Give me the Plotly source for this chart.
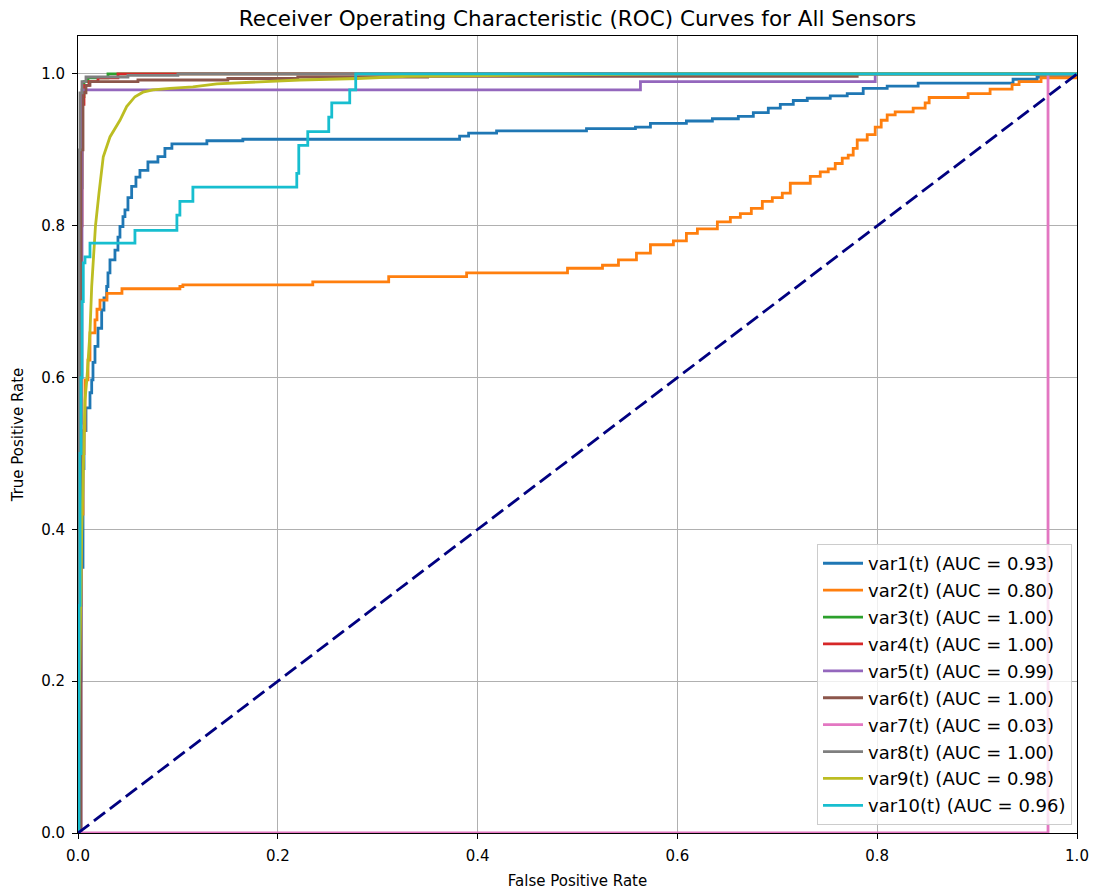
import plotly.graph_objects as go

# ---- data (step points: fpr where a step occurs, tpr level after the step) ----
names = ["var1(t)", "var2(t)", "var3(t)", "var4(t)", "var5(t)",
         "var6(t)", "var7(t)", "var8(t)", "var9(t)", "var10(t)"]
aucs = [0.93, 0.80, 1.00, 1.00, 0.99, 1.00, 0.03, 1.00, 0.98, 0.96]
colors = ["#1f77b4", "#ff7f0e", "#2ca02c", "#d62728", "#9467bd",
          "#8c564b", "#e377c2", "#7f7f7f", "#bcbd22", "#17becf"]
shapes = ["hv", "hv", "hv", "hv", "hv", "hv", "hv", "hv", "linear", "hv"]

fpr_var1 = [0.0, 0.001, 0.003, 0.005, 0.006, 0.008, 0.012, 0.0137, 0.015, 0.017, 0.020, 0.0237, 0.026, 0.0287,
            0.030, 0.032, 0.037, 0.040, 0.042, 0.045, 0.047, 0.050, 0.0537, 0.058, 0.062, 0.070,
            0.080, 0.087, 0.094, 0.129, 0.165, 0.382, 0.391, 0.419, 0.509, 0.558, 0.573, 0.609,
            0.635, 0.661, 0.676, 0.691, 0.703, 0.716, 0.730, 0.753, 0.770, 0.786, 0.810, 0.841,
            0.936, 0.960, 1.0]
tpr_var1 = [0.0, 0.20, 0.35, 0.48, 0.53, 0.56, 0.58, 0.597, 0.62, 0.641, 0.665, 0.689, 0.705, 0.720,
            0.738, 0.755, 0.768, 0.785, 0.799, 0.812, 0.821, 0.837, 0.852, 0.864, 0.873, 0.884,
            0.891, 0.902, 0.908, 0.912, 0.914, 0.918, 0.922, 0.925, 0.928, 0.930, 0.935, 0.938,
            0.941, 0.944, 0.949, 0.955, 0.960, 0.965, 0.968, 0.971, 0.974, 0.981, 0.984, 0.988,
            0.993, 0.996, 1.0]

fpr_var2 = [0.0, 0.001, 0.002, 0.003, 0.005, 0.006, 0.007, 0.010, 0.012, 0.017, 0.019, 0.022,
            0.029, 0.044, 0.102, 0.105, 0.235, 0.311, 0.389, 0.490, 0.525, 0.541, 0.559, 0.573,
            0.596, 0.609, 0.620, 0.640, 0.653, 0.663, 0.674, 0.685, 0.695, 0.705, 0.713, 0.733,
            0.743, 0.751, 0.758, 0.765, 0.771, 0.776, 0.780, 0.790, 0.798, 0.804, 0.810, 0.818,
            0.836, 0.848, 0.852, 0.891, 0.913, 0.935, 0.942, 0.964, 1.0]
tpr_var2 = [0.0, 0.15, 0.30, 0.42, 0.50, 0.53, 0.597, 0.623, 0.659, 0.676, 0.690, 0.702,
            0.711, 0.717, 0.720, 0.722, 0.726, 0.733, 0.738, 0.744, 0.748, 0.755, 0.764, 0.775,
            0.780, 0.790, 0.796, 0.805, 0.811, 0.816, 0.823, 0.832, 0.837, 0.843, 0.856, 0.865,
            0.871, 0.875, 0.882, 0.889, 0.893, 0.902, 0.913, 0.920, 0.930, 0.939, 0.946, 0.950,
            0.955, 0.962, 0.969, 0.974, 0.980, 0.986, 0.990, 0.995, 1.0]

fpr_var3 = [0.0, 0.0005, 0.001, 0.002, 0.003, 0.004, 0.006, 0.010, 0.030, 1.0]
tpr_var3 = [0.0, 0.20, 0.40, 0.60, 0.85, 0.97, 0.99, 0.995, 1.0, 1.0]

fpr_var4 = [0.0, 0.0, 0.001, 0.002, 0.003, 0.004, 0.006, 0.011, 0.020, 0.040, 1.0]
tpr_var4 = [0.0, 0.30, 0.50, 0.54, 0.80, 0.96, 0.985, 0.99, 0.995, 1.0, 1.0]

fpr_var5 = [0.0, 0.003, 0.004, 0.563, 0.798, 1.0]
tpr_var5 = [0.0, 0.60, 0.979, 0.990, 1.0, 1.0]

fpr_var6 = [0.0, 0.003, 0.005, 0.008, 0.012, 0.060, 0.150, 0.220, 0.350, 0.780, 1.0]
tpr_var6 = [0.0, 0.90, 0.975, 0.985, 0.990, 0.992, 0.994, 0.996, 0.997, 1.0, 1.0]

fpr_var7 = [0.0, 0.971, 1.0]
tpr_var7 = [0.0, 1.0, 1.0]

fpr_var8 = [0.0, 0.0005, 0.001, 0.002, 0.004, 0.008, 0.050, 0.100, 1.0]
tpr_var8 = [0.0, 0.50, 0.90, 0.975, 0.99, 0.996, 0.998, 1.0, 1.0]

fpr_var9 = [0.0, 0.0, 0.0005, 0.0015, 0.002, 0.003, 0.0037, 0.0053, 0.007, 0.009, 0.012,
            0.0137, 0.0153, 0.0175, 0.021, 0.0253, 0.032, 0.042, 0.0487, 0.057, 0.065, 0.075,
            0.092, 0.115, 0.139, 0.182, 0.222, 0.280, 0.330, 0.600, 1.0]
tpr_var9 = [0.0, 0.07, 0.12, 0.20, 0.26, 0.33, 0.395, 0.48, 0.57, 0.60, 0.66,
            0.72, 0.755, 0.80, 0.843, 0.891, 0.917, 0.939, 0.957, 0.970, 0.976, 0.979,
            0.981, 0.983, 0.987, 0.990, 0.992, 0.994, 0.997, 1.0, 1.0]

fpr_var10 = [0.0, 0.001, 0.002, 0.003, 0.004, 0.0053, 0.007, 0.012, 0.057, 0.099, 0.102, 0.115,
             0.219, 0.221, 0.230, 0.251, 0.254, 0.272, 0.278, 1.0]
tpr_var10 = [0.0, 0.30, 0.50, 0.60, 0.70, 0.751, 0.759, 0.777, 0.794, 0.814, 0.832, 0.851,
             0.869, 0.906, 0.924, 0.943, 0.962, 0.979, 1.0, 1.0]

fprs = [fpr_var1, fpr_var2, fpr_var3, fpr_var4, fpr_var5,
        fpr_var6, fpr_var7, fpr_var8, fpr_var9, fpr_var10]
tprs = [tpr_var1, tpr_var2, tpr_var3, tpr_var4, tpr_var5,
        tpr_var6, tpr_var7, tpr_var8, tpr_var9, tpr_var10]

diag_x = [0, 1]
diag_y = [0, 1]

x_ticks = [0.0, 0.2, 0.4, 0.6, 0.8, 1.0]
y_ticks = [0.0, 0.2, 0.4, 0.6, 0.8, 1.0]

# ---- figure ----
fig = go.Figure()
for i in range(len(names)):
    fig.add_trace(go.Scatter(
        x=fprs[i], y=tprs[i], mode="lines",
        line=dict(color=colors[i], width=2.8, shape=shapes[i]),
        name=f"{names[i]} (AUC = {aucs[i]:.2f})",
        legendgroup=f"g{i}",
    ))

fig.add_trace(go.Scatter(
    x=diag_x, y=diag_y, mode="lines",
    line=dict(color="navy", width=2.8, dash="14px,6px"),
    showlegend=False,
))

font_family = "DejaVu Sans"
axis_common = dict(
    showgrid=True, gridcolor="#b0b0b0", gridwidth=1,
    zeroline=False,
    showline=True, mirror=True, linecolor="black", linewidth=1,
    ticks="outside", ticklen=5, tickwidth=1, tickcolor="black",
    ticklabelstandoff=4,
    tickfont=dict(family=font_family, size=15, color="black"),
)

fig.update_layout(
    width=1099, height=895,
    margin=dict(l=78, r=22, t=36, b=62, autoexpand=False),
    paper_bgcolor="white", plot_bgcolor="white",
    font=dict(family=font_family, color="black"),
    title=dict(text="Receiver Operating Characteristic (ROC) Curves for All Sensors",
               x=(78 + 1077) / 2 / 1099, xanchor="center", y=1 - 18 / 895, yanchor="middle",
               font=dict(family=font_family, size=21.5, color="black")),
    xaxis=dict(range=[0, 1], tickvals=x_ticks, ticktext=[f"{v:.1f}" for v in x_ticks],
               title=dict(text="False Positive Rate", standoff=11,
                          font=dict(family=font_family, size=15)),
               **axis_common),
    yaxis=dict(range=[0, 1.05], tickvals=y_ticks, ticktext=[f"{v:.1f}" for v in y_ticks],
               title=dict(text="True Positive Rate", standoff=13,
                          font=dict(family=font_family, size=15)),
               **axis_common),
    legend=dict(x=0.995, xanchor="right", y=0.010, yanchor="bottom",
                bgcolor="rgba(255,255,255,0.8)", bordercolor="#cccccc", borderwidth=1,
                font=dict(family=font_family, size=18, color="black"),
                tracegroupgap=0.5, itemwidth=40),
    showlegend=True,
)

fig.write_html("out.html")
